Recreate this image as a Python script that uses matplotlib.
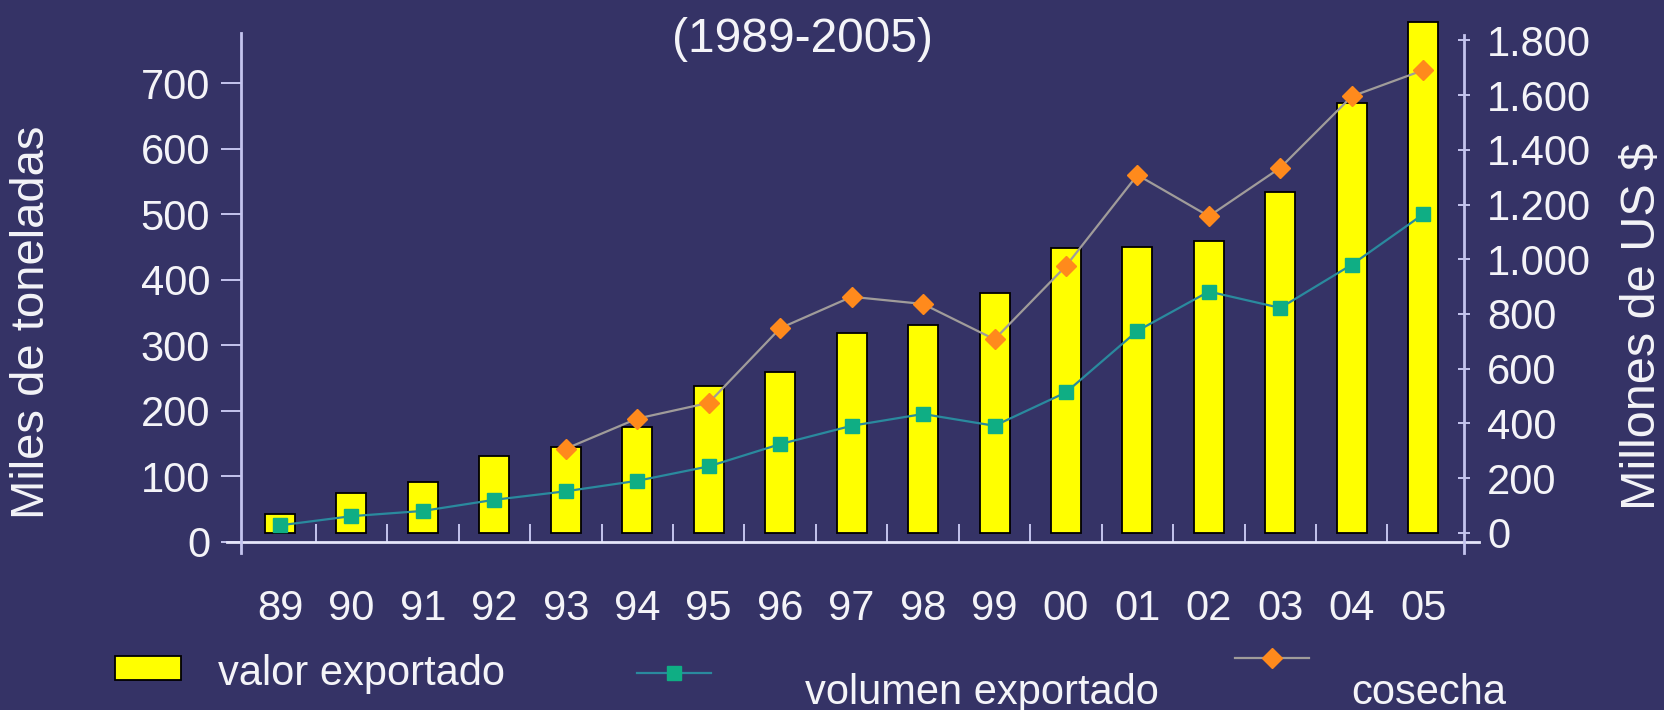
import matplotlib
matplotlib.use("Agg")
import matplotlib.pyplot as plt
import numpy as np
from matplotlib.lines import Line2D
from matplotlib.patches import Rectangle
from matplotlib.ticker import FuncFormatter

plt.rcParams['font.family'] = ['Liberation Sans', 'DejaVu Sans']

# data
years = ['89', '90', '91', '92', '93', '94', '95', '96', '97',
         '98', '99', '00', '01', '02', '03', '04', '05']
valor_exportado = [68, 147, 185, 282, 315, 388, 537, 589, 730,
                   760, 876, 1040, 1046, 1067, 1247, 1570, 1868]   # millones US$
volumen_exportado = [25, 39, 47, 64, 77, 93, 115, 149, 177,
                     195, 177, 228, 322, 382, 357, 423, 500]       # miles de t
cosecha = [np.nan, np.nan, np.nan, np.nan, 142, 188, 212, 326, 374,
           363, 309, 421, 560, 497, 571, 680, 720]                 # miles de t

left_ticks = [0, 100, 200, 300, 400, 500, 600, 700]
right_ticks = [0, 200, 400, 600, 800, 1000, 1200, 1400, 1600, 1800]

BG = '#353366'
AXIS_C = '#c4c4ee'
TEXT_C = '#f4f4f8'
W, H = 1665, 710


def fx(x):
    return x / W


def fy(y):
    return 1 - y / H


fig = plt.figure(figsize=(W / 100, H / 100), dpi=100, facecolor=BG)

# axes box in pixels: left 241, right 1464, top 33, bottom 542
ax = fig.add_axes([fx(241.3), fy(541.7), (1464.3 - 241.3) / W, (541.7 - 33) / H])
ax2 = ax.twinx()
ax.set_zorder(3)
ax2.set_zorder(2)
ax.patch.set_visible(False)
ax2.patch.set_visible(False)

x = np.arange(len(years))

ax2.bar(x, valor_exportado, width=0.42, color='#ffff00', edgecolor='black',
        linewidth=1.3, clip_on=False, zorder=2)

ax.plot(x, volumen_exportado, color='#2a8a9e', lw=1.6, marker='s', ms=10,
        markerfacecolor='#0fae84', markeredgecolor='#0fae84', zorder=4)
ax.plot(x, cosecha, color='#a09c9a', lw=1.6, marker='D', ms=10,
        markerfacecolor='#ff8a1c', markeredgecolor='#ff8a1c', zorder=5)

ax.set_xlim(-0.542, 16.575)
ax.set_ylim(0, 776.8)
ax2.set_ylim(-31.8, 1826.5)

for a in (ax, ax2):
    for s in a.spines.values():
        s.set_visible(False)

# axis lines drawn by hand so they run a little past the corners
ax.plot([-0.012, 1.012], [0, 0], transform=ax.transAxes, color='#e6e6fa',
        lw=2, clip_on=False, zorder=6)
ax.plot([0, 0], [-0.022, 1.0], transform=ax.transAxes, color=AXIS_C,
        lw=2, clip_on=False, zorder=6)
ax.plot([1, 1], [-0.022, 0.996], transform=ax.transAxes, color=AXIS_C,
        lw=2, clip_on=False, zorder=6)

ax.set_yticks(left_ticks)
ax.tick_params(axis='y', direction='out', length=14.4, width=1.4, color=AXIS_C,
               labelsize=30, labelcolor=TEXT_C, pad=8)
ax2.set_yticks(right_ticks)
ax2.yaxis.set_major_formatter(FuncFormatter(lambda v, p: f'{int(v):,}'.replace(',', '.')))
ax2.tick_params(axis='y', direction='inout', length=8.6, width=1.4, color=AXIS_C,
                labelsize=30, labelcolor=TEXT_C, pad=12)

ax.set_xticks(x)
ax.set_xticklabels(years)
ax.set_xticks(np.arange(0.5, 16), minor=True)
ax.tick_params(axis='x', which='major', length=0, labelsize=30,
               labelcolor=TEXT_C, pad=34)
ax.tick_params(axis='x', which='minor', direction='in', length=13,
               width=1.4, color=AXIS_C)

fig.text(fx(803), fy(52), '(1989-2005)', color=TEXT_C, fontsize=34.5,
         ha='center', va='baseline')
fig.text(fx(32), fy(322), 'Miles de toneladas', color=TEXT_C, fontsize=34,
         rotation=90, ha='center', va='center')
fig.text(fx(1643), fy(326), 'Millones de US $', color=TEXT_C, fontsize=35,
         rotation=90, ha='center', va='center')

# legend built by hand, items are not aligned on one row in the reference
fig.add_artist(Rectangle((fx(115), fy(680)), fx(66), 24 / H, facecolor='#ffff00',
                         edgecolor='black', lw=1.3, transform=fig.transFigure))
fig.text(fx(218), fy(685), 'valor exportado', color=TEXT_C, fontsize=30,
         ha='left', va='baseline')
fig.add_artist(Line2D([fx(637), fx(711)], [fy(673), fy(673)], color='#2a8a9e', lw=1.6,
                      transform=fig.transFigure))
fig.add_artist(Line2D([fx(674)], [fy(673)], marker='s', ms=10, color='#0fae84',
                      transform=fig.transFigure))
fig.text(fx(805), fy(704), 'volumen exportado', color=TEXT_C, fontsize=30,
         ha='left', va='baseline')
fig.add_artist(Line2D([fx(1235), fx(1309)], [fy(658), fy(658)], color='#a09c9a', lw=1.6,
                      transform=fig.transFigure))
fig.add_artist(Line2D([fx(1272)], [fy(658)], marker='D', ms=10, color='#ff8a1c',
                      transform=fig.transFigure))
fig.text(fx(1351), fy(704), 'cosecha', color=TEXT_C, fontsize=30,
         ha='left', va='baseline')

fig.savefig('out.png', dpi=100, facecolor=BG)
